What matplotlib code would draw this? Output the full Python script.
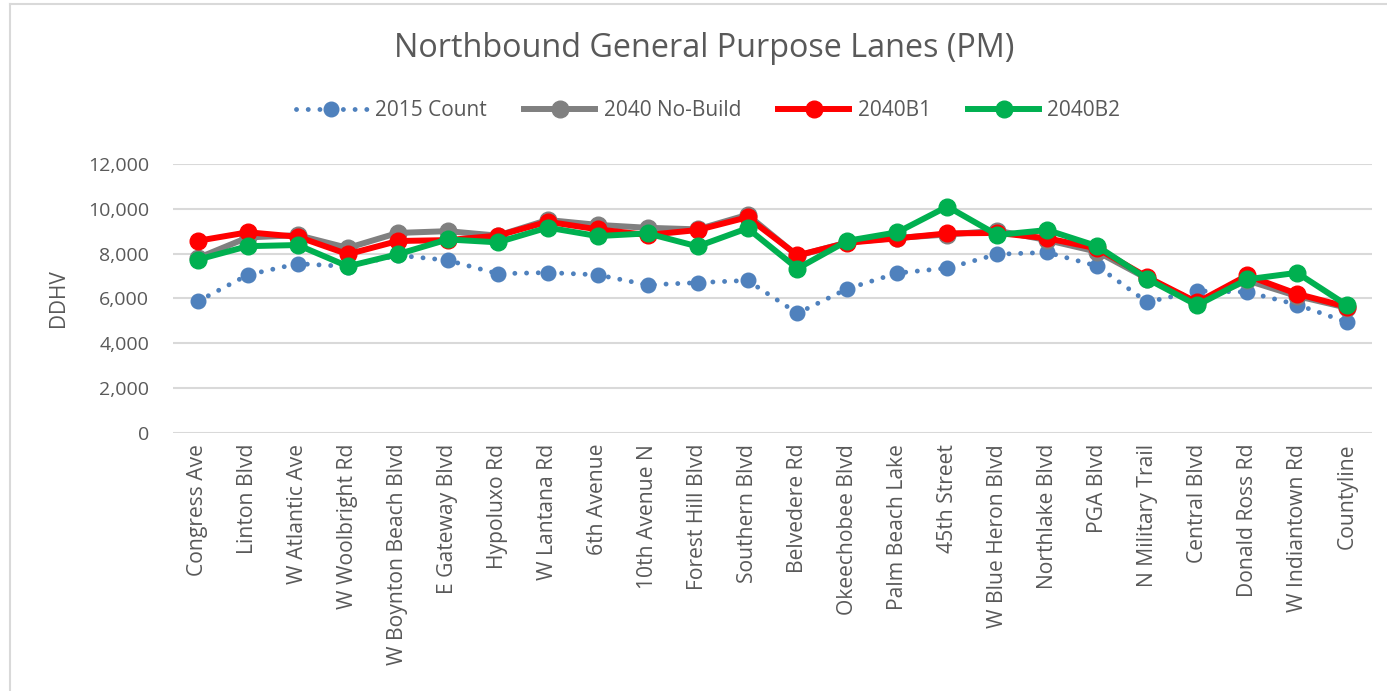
import matplotlib
matplotlib.use("Agg")
import matplotlib.pyplot as plt
from matplotlib.ticker import FuncFormatter
from matplotlib.lines import Line2D

plt.rcParams['font.family'] = ['Open Sans', 'DejaVu Sans']

streets = ["Congress Ave", "Linton Blvd", "W Atlantic Ave", "W Woolbright Rd",
           "W Boynton Beach Blvd", "E Gateway Blvd", "Hypoluxo Rd", "W Lantana Rd",
           "6th Avenue", "10th Avenue N", "Forest Hill Blvd", "Southern Blvd",
           "Belvedere Rd", "Okeechobee Blvd", "Palm Beach Lake", "45th Street",
           "W Blue Heron Blvd", "Northlake Blvd", "PGA Blvd", "N Military Trail",
           "Central Blvd", "Donald Ross Rd", "W Indiantown Rd", "Countyline"]

count_2015 = [5870, 7050, 7550, 7420, 7920, 7700, 7100, 7150, 7050, 6600, 6700, 6800,
              5330, 6430, 7130, 7350, 7970, 8050, 7440, 5830, 6330, 6280, 5720, 4930]
no_build = [7800, 8720, 8820, 8250, 8920, 9000, 8800, 9500, 9280, 9150, 9080, 9730,
            7900, 8500, 8700, 8850, 9020, 8600, 8080, 6880, 5800, 6800, 6100, 5580]
b1 = [8570, 8950, 8750, 7970, 8560, 8600, 8800, 9420, 9080, 8830, 9050, 9620,
      7920, 8480, 8680, 8900, 8920, 8680, 8230, 6950, 5820, 7020, 6200, 5620]
b2 = [7730, 8330, 8380, 7430, 7970, 8630, 8500, 9160, 8780, 8900, 8320, 9130,
      7330, 8570, 8950, 10100, 8830, 9050, 8330, 6870, 5690, 6850, 7140, 5690]

txt = "#595959"
fig = plt.figure(figsize=(13.87, 6.91), dpi=100)
ax = fig.add_axes([0.1247, 0.3738, 0.8645, 0.3889])

x = range(len(streets))
ax.plot(x, count_2015, color="#4F81BD", lw=3.5, linestyle=(0, (0.01, 2.4)),
        dash_capstyle="round", marker="o", ms=10.5, label="2015 Count", zorder=3)
ax.plot(x, no_build, color="#808080", lw=4.3, marker="o", ms=12,
        label="2040 No-Build", zorder=4)
ax.plot(x, b1, color="#FF0000", lw=4.3, marker="o", ms=12, label="2040B1", zorder=5)
ax.plot(x, b2, color="#00B050", lw=4.3, marker="o", ms=12, label="2040B2", zorder=6)

ax.set_xlim(-0.5, len(streets) - 0.5)
ax.set_ylim(0, 12000)
ax.set_yticks(range(0, 12001, 2000))
ax.yaxis.set_major_formatter(FuncFormatter(lambda v, p: f"{int(v):,}"))
ax.set_xticks(list(x))
ax.set_xticklabels(streets, rotation=90)
ax.grid(axis="y", color="#D9D9D9", lw=1.5, zorder=0)
ax.set_axisbelow(True)
for s in ax.spines.values():
    s.set_visible(False)
ax.tick_params(axis="both", length=0, labelsize=14, colors=txt)
ax.tick_params(axis="x", labelsize=15.2, pad=8)
ax.tick_params(axis="y", pad=17)
ax.set_ylabel("DDHV", fontsize=15, color=txt, labelpad=14)

fig.text(0.508, 0.9305, "Northbound General Purpose Lanes (PM)", ha="center",
         va="center", fontsize=23.3, color=txt)

fig.legend(loc="center", bbox_to_anchor=(0.5106, 0.8394), ncol=4, frameon=False,
           fontsize=15, handlelength=3.4, handletextpad=0.4, columnspacing=1.8,
           labelcolor=txt)

# chart frame (top and left edges visible)
fig.add_artist(Line2D([10 / 1387, 10 / 1387], [0, 1 - 4 / 691], color="#D9D9D9",
                      lw=1.5, transform=fig.transFigure))
fig.add_artist(Line2D([10 / 1387, 1], [1 - 4 / 691, 1 - 4 / 691], color="#D9D9D9",
                      lw=1.5, transform=fig.transFigure))

fig.savefig("out.png", dpi=100)
